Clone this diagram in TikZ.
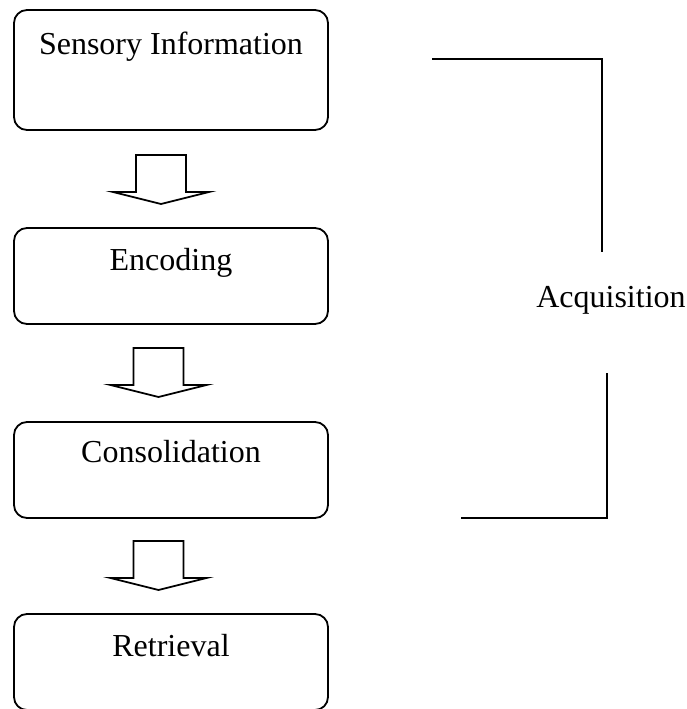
\documentclass[tikz,border=0pt]{standalone}
\usepackage{fontspec}
\setmainfont{Liberation Serif}
\begin{document}
\begin{tikzpicture}[x=1pt,y=1pt,
  box/.style={draw, line width=1.8pt, rounded corners=13pt, minimum width=314pt, inner sep=0pt},
  lbl/.style={font=\fontsize{32}{38}\selectfont, inner sep=0pt, anchor=base},
  brk/.style={line width=1.8pt},
  blockarrow/.pic={\draw[line width=1.8pt, line join=miter]
     (-25,0) -- (25,0) -- (25,-37) -- (48,-37) -- (0,-49) -- (-48,-37) -- (-25,-37) -- cycle;}
]
\useasboundingbox (0,0) rectangle (687,-709);
% boxes
\node[box, minimum height=120pt] (b1) at (171,-70) {};
\node[box, minimum height=96pt] (b2) at (171,-276) {};
\node[box, minimum height=96pt] (b3) at (171,-470) {};
\node[box, minimum height=96pt] (b4) at (171,-662) {};
% labels
\node[lbl] (t1) at ([yshift=-45pt]b1.north) {Sensory Information};
\node[lbl] (t2) at ([yshift=-43pt]b2.north) {Encoding};
\node[lbl] (t3) at ([yshift=-41pt]b3.north) {Consolidation};
\node[lbl] (t4) at ([yshift=-43pt]b4.north) {Retrieval};
% block arrows
\pic at (161,-155) {blockarrow};
\pic at (158.5,-348) {blockarrow};
\pic at (158.5,-541) {blockarrow};
% bracket
\node[lbl] (acq) at (611,-307) {Acquisition};
\coordinate (u1) at (432,-59);
\coordinate (u2) at (602,-59);
\coordinate (u3) at (602,-252);
\coordinate (l1) at (607,-373);
\coordinate (l2) at (607,-518);
\coordinate (l3) at (461,-518);
\draw[brk] (u1) -- (u2) -- (u3);
\draw[brk] (l1) -- (l2) -- (l3);
\end{tikzpicture}
\end{document}
